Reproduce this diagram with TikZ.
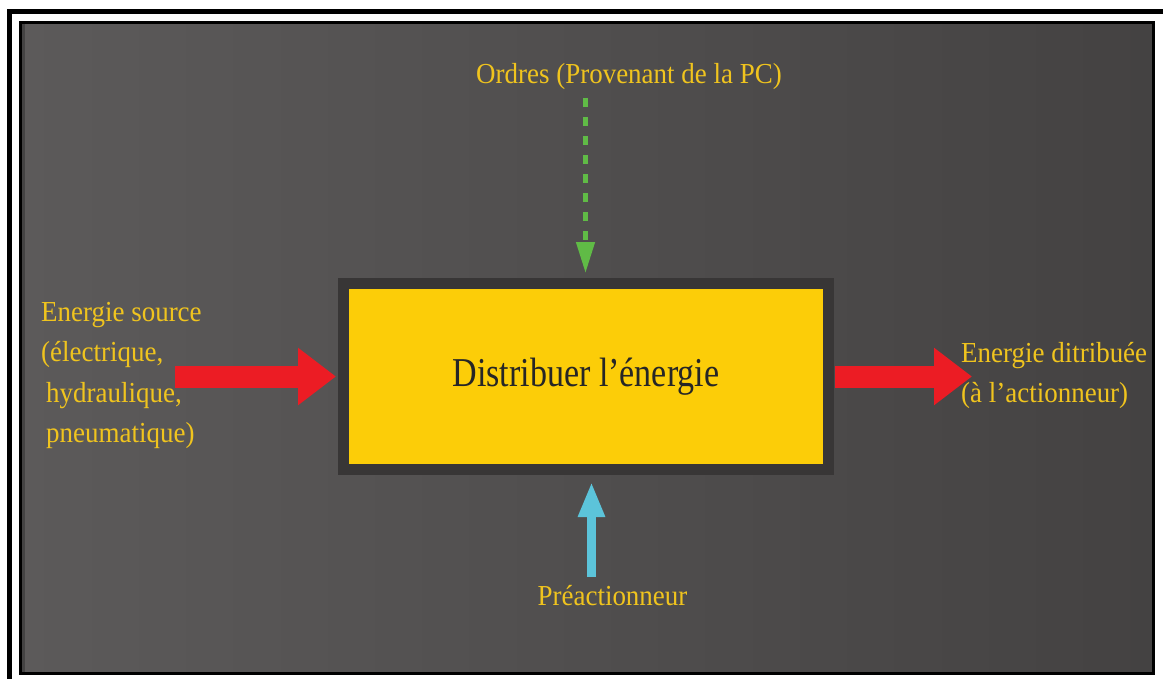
\documentclass[tikz,border=0pt]{standalone}
\usepackage{fontspec}
\usetikzlibrary{arrows.meta}
\newfontfamily\labelfont[FakeStretch=0.93]{Liberation Serif}
\newfontfamily\boxfont[FakeStretch=0.83]{Liberation Serif}
\definecolor{panelleft}{RGB}{92,90,90}
\definecolor{panelmid}{RGB}{87,85,85}
\definecolor{panelright}{RGB}{68,66,66}
\definecolor{boxyellow}{RGB}{252,205,8}
\definecolor{boxedge}{RGB}{56,54,54}
\definecolor{labelyellow}{RGB}{240,196,30}
\definecolor{energyred}{RGB}{236,28,36}
\definecolor{ordergreen}{RGB}{96,187,70}
\definecolor{preblue}{RGB}{92,196,218}
\tikzset{
  lbl/.style={text=labelyellow, font=\labelfont\fontsize{29}{29}\selectfont, inner sep=0pt, anchor=base west},
  energyarrow/.style={draw=energyred, line width=22pt,
    -{Triangle[length=38pt,width=55pt]}},
  orderarrow/.style={draw=ordergreen, line width=4.5pt, dash pattern=on 9pt off 10pt,
    -{Triangle[length=31pt,width=18pt]}},
  prearrow/.style={draw=preblue, line width=8.5pt,
    -{Triangle[length=35pt,width=25pt]}},
}
\begin{document}
\begin{tikzpicture}[x=1pt,y=-1pt]
\useasboundingbox (0,0) rectangle (1163,678);
\clip (0,0) rectangle (1163,678);
\fill[white] (0,0) rectangle (1163,678);
% outer frame, running off the page on the right and bottom
\draw[black, line width=5pt] (9.5,11.5) rectangle (1175,690);
% dark panel with a horizontal gradient
\shade[left color=panelleft, middle color=panelmid, right color=panelright] (20.5,22.5) rectangle (1153.5,673);
\fill[black, opacity=0.25] (22,24) rectangle (24.5,671.5);
\draw[black, line width=3pt] (20.5,22.5) rectangle (1153.5,673);

% central function block
\node[draw=boxedge, fill=boxyellow, line width=11pt, minimum width=485pt,
      minimum height=186pt, inner sep=0pt] (box) at (586,376.5) {};
\node[font=\boxfont\fontsize{41}{41}\selectfont, text=black!85, inner sep=0pt, anchor=base]
  (title) at (586,386.7) {Distribuer l’énergie};

% labels
\node[lbl] (src1) at (41,321) {Energie source};
\node[lbl] (src2) at (41,361.5) {(électrique,};
\node[lbl] (src3) at (46,402) {hydraulique,};
\node[lbl] (src4) at (46,442.5) {pneumatique)};
\node[lbl] (out1) at (961,362.5) {Energie ditribuée};
\node[lbl] (out2) at (961,402.5) {(à l’actionneur)};
\node[lbl, anchor=base] (ord) at (629,83) {Ordres (Provenant de la PC)};
\node[lbl, anchor=base] (pre) at (612.5,605) {Préactionneur};

% connector ends
\coordinate (srcL) at (175,376.5);
\coordinate (dstR) at (972,376.5);
\coordinate (ordN) at (585.5,98);
\coordinate (preS) at (591.5,577);

% connectors
\draw[energyarrow] (srcL) -- ([xshift=-2pt]box.west);
\draw[energyarrow] ([xshift=1pt]box.east) -- (dstR);
\draw[orderarrow] (ordN) -- ([yshift=5pt]box.north -| ordN);
\draw[prearrow] (preS) -- ([yshift=-7pt]box.south -| preS);
\end{tikzpicture}
\end{document}
